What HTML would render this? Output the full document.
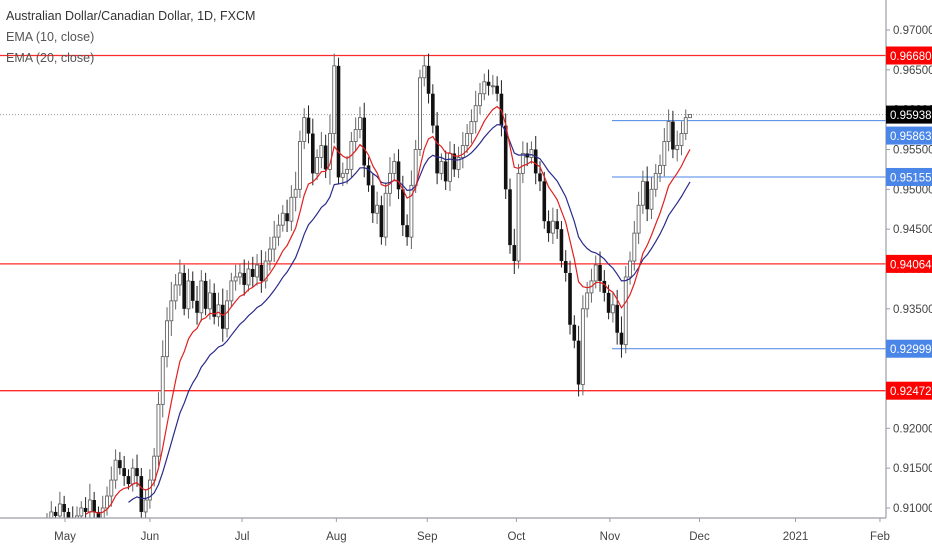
<!DOCTYPE html>
<html><head><meta charset="utf-8">
<style>
html,body{margin:0;padding:0;background:#fff;}
body{width:932px;height:550px;overflow:hidden;font-family:"Liberation Sans",sans-serif;}
svg text{font-family:"Liberation Sans",sans-serif;}
</style></head>
<body>
<svg id="chart" width="932" height="550" xmlns="http://www.w3.org/2000/svg">
<defs><clipPath id="plotclip"><rect x="0" y="0" width="886" height="518"/></clipPath></defs>
<g id="levels"></g>
<g id="plot" clip-path="url(#plotclip)"></g>
<g id="axes"></g>
<g>
<text x="6" y="20" font-size="12.5" fill="#333">Australian Dollar/Canadian Dollar, 1D, FXCM</text>
<text x="6" y="41" font-size="12.5" fill="#555">EMA (10, close)</text>
<text x="6" y="62" font-size="12.5" fill="#555">EMA (20, close)</text>
</g>
</svg>
<script>
const closes=[0.9085,0.9095,0.9090,0.9105,0.9095,0.9085,0.9080,0.9090,0.9100,0.9095,0.9110,0.9095,0.9085,0.9100,0.9115,0.9135,0.9160,0.9150,0.9140,0.9130,0.9150,0.9140,0.9095,0.9110,
0.9135,0.9165,0.9230,0.9290,0.9335,0.9360,0.9380,
0.9395,0.9350,0.9385,0.9360,0.9345,0.9385,0.9350,0.9370,0.9340,0.9355,0.9325,0.9360,0.9385,0.9390,0.9395,
0.9380,0.9400,0.9390,0.9405,0.9385,0.9410,0.9425,0.9440,0.9455,0.9470,0.9460,0.9490,0.9500,0.9560,0.9590,
0.9570,0.9520,0.9540,0.9555,0.9525,0.9570,0.9655,0.9515,
0.9520,0.9525,0.9560,0.9575,0.9590,0.9530,0.9505,0.9470,0.9480,0.9440,0.9495,0.9520,0.9535,0.9500,0.9455,0.9440,0.9505,0.9550,0.9640,0.9655,
0.9620,0.9580,0.9520,0.9535,0.9510,0.9545,0.9525,0.9540,0.9555,
0.9570,0.9585,0.9605,0.9620,0.9635,0.9630,0.9630,0.9620,
0.9580,0.9500,0.9430,0.9410,0.9520,0.9545,0.9540,
0.9550,0.9520,0.9510,0.9460,0.9445,0.9460,0.9450,0.9410,
0.9395,0.9330,0.9310,0.9255,0.9350,0.9370,0.9385,
0.9405,0.9385,0.9370,0.9345,0.9355,0.9320,0.9305,0.9390,
0.9410,0.9445,0.9480,0.9510,0.9475,0.9500,0.9520,0.9530,0.9560,0.9585,0.9550,0.9555,0.9570,0.9590,0.9594];
const wicks=[5,8,4,9,6,3,10,7,5,8,12,6,4,9,7,10,8,6,9,5,7,10,6,8,
8,6,9,12,10,14,8,10,6,9,7,11,8,6,10,7,9,12,8,6,9,
7,10,6,9,8,11,7,9,12,8,6,10,9,13,8,
7,9,11,6,10,8,14,9,
6,8,10,7,9,8,11,6,9,10,7,8,12,6,9,10,8,11,7,6,
8,9,7,10,6,8,9,7,8,
10,7,9,11,8,6,9,8,
7,10,9,8,12,7,9,
8,6,10,9,7,8,10,9,
6,8,9,7,11,10,8,
9,7,10,8,6,9,11,12,
8,7,9,10,8,11,9,7,8,10,9,8,11,9,6];
const yTicks=[0.97,0.965,0.96,0.955,0.95,0.945,0.94,0.935,0.93,0.925,0.92,0.915,0.91];
const xLabels=["May","Jun","Jul","Aug","Sep","Oct","Nov","Dec","2021","Feb"];
const xLabelIdx=[4.2,24,45.5,67.5,88.7,109.5,131.3,152.2,174.6,194.3];
const hLevels=[0.9668,0.94064,0.92472];
const blueLevels=[0.95863,0.95155,0.92999];
const lastPrice=0.95938;

const NS="http://www.w3.org/2000/svg";
function y(p){return 30+(0.97-p)/0.005*39.83;}
function x(i){return 47+i*4.287;}
function mk(tag,attrs,parent){const e=document.createElementNS(NS,tag);for(const k in attrs)e.setAttribute(k,attrs[k]);parent.appendChild(e);return e;}
const plot=document.getElementById('plot'),axes=document.getElementById('axes'),lv=document.getElementById('levels');

hLevels.forEach(p=>{const l=mk('line',{x1:0,x2:886,y1:y(p),y2:y(p),stroke:'#ff2a2a','stroke-width':1.3},lv);

});
blueLevels.forEach(p=>{const l=mk('line',{x1:612,x2:886,y1:y(p),y2:y(p),stroke:'#4a86e8','stroke-width':1},lv);

});
const pl=mk('line',{x1:0,x2:886,y1:y(lastPrice),y2:y(lastPrice),stroke:'#999','stroke-width':1,'stroke-dasharray':'1,2'},lv);



for(let i=0;i<closes.length;i++){
  const c=closes[i],o=i===0?c-0.0005:closes[i-1];
  const w=wicks[i]*0.0001*1.7;
  const hi=Math.max(o,c)+w,lo=Math.min(o,c)-w*0.8;
  const g=mk('g',{},plot);
  
  
  const cx=x(i);
  mk('line',{x1:cx,x2:cx,y1:y(hi),y2:y(lo),stroke:c>=o?'#666':'#222','stroke-width':1},g);
  const top=y(Math.max(o,c)),h=Math.max(1,y(Math.min(o,c))-top);
  if(c>=o) mk('rect',{x:cx-1.5,y:top,width:3,height:h,fill:'#fff',stroke:'#666','stroke-width':0.9},g);
  else mk('rect',{x:cx-1.8,y:top,width:3.6,height:h,fill:'#111'},g);
}
function ema(n){const k=2/(n+1);let out=[],e=null;for(let i=0;i<closes.length;i++){if(i<n-1){out.push(null);continue;}
 if(e===null){let s=0;for(let j=i-n+1;j<=i;j++)s+=closes[j];e=s/n;}else e=closes[i]*k+e*(1-k);out.push(e);}return out;}
function drawEma(arr,col,name){let d='';arr.forEach((v,i)=>{if(v===null)return;d+=(d?'L':'M')+x(i).toFixed(1)+','+y(v).toFixed(1);});
 const p=mk('path',{d:d,fill:'none',stroke:col,'stroke-width':1.2},plot);
 
 }
drawEma(ema(20),'#2a2a8a','ema-20-line');
drawEma(ema(10),'#e02020','ema-10-line');

mk('line',{x1:886,x2:886,y1:0,y2:518,stroke:'#9a9ea8','stroke-width':1.2},axes);
mk('line',{x1:0,x2:886,y1:518,y2:518,stroke:'#9a9ea8','stroke-width':1.2},axes);
yTicks.forEach(p=>{mk('line',{x1:886,x2:890,y1:y(p),y2:y(p),stroke:'#9a9ea8'},axes);
 const t=mk('text',{x:893,y:y(p)+4,'font-size':11.5,fill:'#444'},axes);t.textContent=p.toFixed(5);
 
 });
xLabels.forEach((s,k)=>{const xx=x(xLabelIdx[k]);mk('line',{x1:xx,x2:xx,y1:518,y2:522,stroke:'#9a9ea8'},axes);
 const t=mk('text',{x:xx,y:540,'font-size':11.5,fill:'#444','text-anchor':'middle'},axes);t.textContent=s;
 
 });
function tag(p,bg,name,off){const yy=y(p)+(off||0);mk('rect',{x:886,y:yy-9,width:46,height:18,fill:bg},axes);
 const t=mk('text',{x:890,y:yy+4.5,'font-size':11.5,fill:'#fff'},axes);t.textContent=p.toFixed(5);
 
 }
tag(hLevels[0],'#ff0000','price-tag-red');
tag(hLevels[1],'#ff0000','price-tag-red');
tag(hLevels[2],'#ff0000','price-tag-red');
tag(blueLevels[0],'#4a86e8','price-tag-blue',15);
tag(blueLevels[1],'#4a86e8','price-tag-blue');
tag(blueLevels[2],'#4a86e8','price-tag-blue');
tag(lastPrice,'#000','last-price-tag');
</script>
</body></html>
